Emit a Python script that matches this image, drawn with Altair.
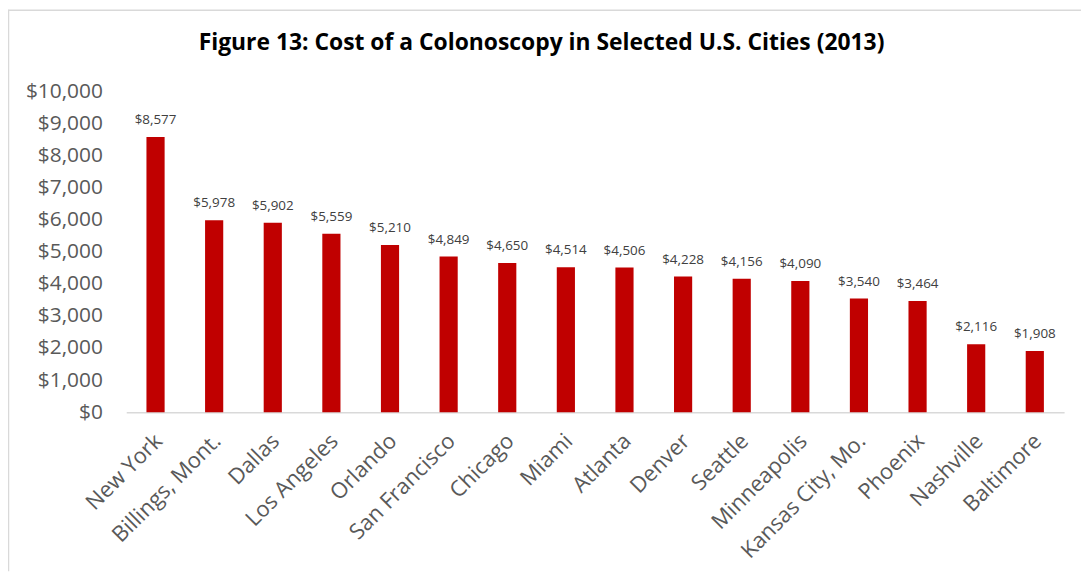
import altair as alt
import pandas as pd

cities = ["New York", "Billings, Mont.", "Dallas", "Los Angeles", "Orlando",
          "San Francisco", "Chicago", "Miami", "Atlanta", "Denver", "Seattle",
          "Minneapolis", "Kansas City, Mo.", "Phoenix", "Nashville", "Baltimore"]
costs = [8577, 5978, 5902, 5559, 5210, 4849, 4650, 4514, 4506, 4228, 4156,
         4090, 3540, 3464, 2116, 1908]
y_ticks = [0, 1000, 2000, 3000, 4000, 5000, 6000, 7000, 8000, 9000, 10000]
title_text = "Figure 13: Cost of a Colonoscopy in Selected U.S. Cities (2013)"

df = pd.DataFrame({"city": cities, "cost": costs})

W, H = 944, 323
PAD_L, PAD_T, PAD_R, PAD_B = 119, 82, 17, 160
FONT = "Open Sans"

x_axis = alt.Axis(labelAngle=-45, labelFontSize=22, labelColor="#595959",
                  labelFont=FONT, ticks=False, domainColor="#D9D9D9",
                  domainWidth=1.5, labelPadding=18, labelLimit=300,
                  labelOverlap=False, labelOffset=-4, grid=False)
y_axis = alt.Axis(values=y_ticks, format="$,.0f", labelFontSize=21,
                  labelColor="#595959", labelFont=FONT, ticks=False,
                  domain=False, grid=False, labelPadding=24,
                  labelOverlap=False)
x_scale = alt.Scale(paddingInner=0.69, paddingOuter=0.345)
y_scale = alt.Scale(domain=[0, 10000], nice=False)

base = alt.Chart(df)
bars = base.mark_bar(color="#C00000").encode(
    x=alt.X("city:N", sort=cities, title=None, scale=x_scale, axis=x_axis),
    y=alt.Y("cost:Q", title=None, scale=y_scale, axis=y_axis))
labels = base.mark_text(baseline="bottom", dy=-10, fontSize=13.5, font=FONT,
                        color="#404040").encode(
    x=alt.X("city:N", sort=cities, title=None, scale=x_scale, axis=x_axis),
    y=alt.Y("cost:Q", title=None, scale=y_scale, axis=y_axis),
    text=alt.Text("cost:Q", format="$,.0f"))

one = alt.Data(values=[{"k": 1}])
frame_left = alt.Chart(one).mark_rule(color="#D9D9D9", strokeWidth=1.5).encode(
    x=alt.value(-PAD_L + 0.5), y=alt.value(-PAD_T), y2=alt.value(H + PAD_B))
frame_top = alt.Chart(one).mark_rule(color="#D9D9D9", strokeWidth=1.5).encode(
    x=alt.value(-PAD_L), x2=alt.value(W + PAD_R), y=alt.value(-PAD_T + 0.5))

chart = alt.layer(frame_left, frame_top, bars, labels).properties(
    width=W, height=H,
    title=alt.TitleParams(title_text, font=FONT, fontSize=23, fontWeight="bold",
                          color="#000000", anchor="middle", dx=-54, offset=0,
                          dy=46),
    autosize=alt.AutoSizeParams(type="none"),
    padding={"left": PAD_L, "top": PAD_T, "right": PAD_R, "bottom": PAD_B},
).configure(background="white").configure_view(stroke=None, strokeWidth=0)

chart.save("out.html", embed_options={"renderer": "svg", "actions": False})
